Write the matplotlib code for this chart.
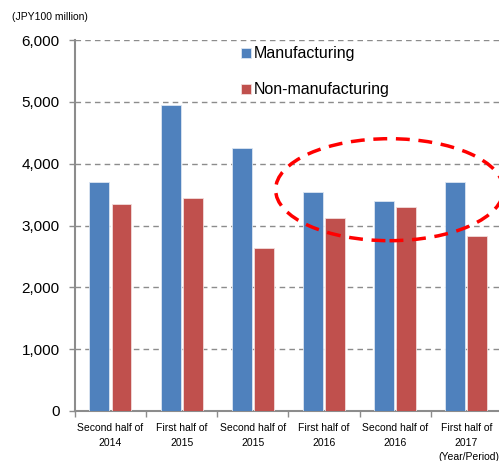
import numpy as np
import matplotlib.pyplot as plt
from matplotlib.patches import Ellipse

plt.rcParams['font.family'] = ['Liberation Sans', 'DejaVu Sans']

# Data (JPY100 million)
periods = ["Second half of\n2014", "First half of\n2015", "Second half of\n2015",
           "First half of\n2016", "Second half of\n2016", "First half of\n2017"]
manufacturing = [3700, 4950, 4250, 3550, 3400, 3700]
non_manufacturing = [3350, 3450, 2630, 3130, 3300, 2830]

blue = "#4F81BD"
red = "#C0504D"

fig = plt.figure(figsize=(4.99, 4.61), dpi=100)
ax = fig.add_axes([0.150, 0.1085, 0.856, 0.8045])

x = np.arange(len(periods))
w = 0.28
ax.bar(x - w / 2 - 0.015, manufacturing, w, color=blue, edgecolor="#dce6f2",
       linewidth=0.6, label="Manufacturing", zorder=3)
ax.bar(x + w / 2 + 0.015, non_manufacturing, w, color=red, edgecolor="#f2dcdb",
       linewidth=0.6, label="Non-manufacturing", zorder=3)

ax.set_xlim(-0.5, len(periods) - 0.5)
ax.set_ylim(0, 6000)
ax.set_yticks(range(0, 6001, 1000))
ax.set_yticklabels([f"{v:,}" for v in range(0, 6001, 1000)], fontsize=11)
ax.yaxis.grid(True, linestyle=(0, (4, 3)), color="#8c8c8c", linewidth=1, zorder=0)

ax.set_xticks(x)
ax.set_xticklabels(periods, fontsize=7.5, linespacing=1.6)
ax.set_xticks(np.arange(-0.5, len(periods)), minor=True)
ax.tick_params(axis="x", which="major", length=0, pad=9)
ax.tick_params(axis="x", which="minor", length=4, color="#8c8c8c", width=1)
ax.tick_params(axis="y", length=4, color="#8c8c8c", width=1, pad=7)

for s in ["top", "right"]:
    ax.spines[s].set_visible(False)
for s in ["left", "bottom"]:
    ax.spines[s].set_color("#8c8c8c")
    ax.spines[s].set_linewidth(1.5)

# dashed ellipse highlight
ell = Ellipse((3.92, 3580), 3.2, 1650, fill=False, edgecolor="#ff0000",
              linestyle=(0, (4, 2.5)), linewidth=2.5, zorder=5, clip_on=False)
ax.add_patch(ell)

ax.legend(loc="upper left", bbox_to_anchor=(0.375, 1.0), frameon=False,
          fontsize=11.5, handlelength=0.6, handleheight=0.6, handletextpad=0.2,
          labelspacing=1.3, borderaxespad=0)

fig.text(12 / 499, 1 - 17 / 461, "(JPY100 million)", fontsize=7.5, va="center", ha="left")
fig.text(1.0, 1 - 457 / 461, "(Year/Period)", fontsize=7.5, va="center", ha="right")

fig.savefig("out.png", dpi=100)
